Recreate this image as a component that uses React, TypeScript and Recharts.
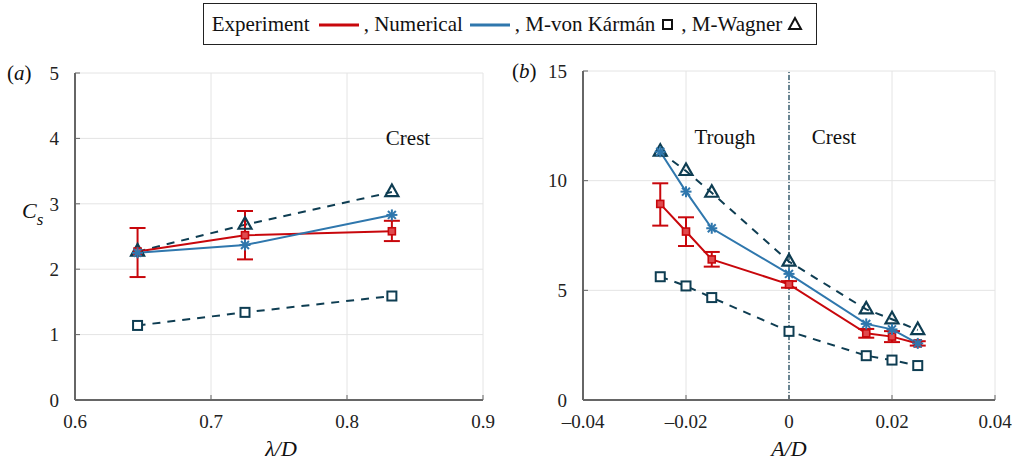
import React from 'react'
import {
  LineChart,
  Line,
  XAxis,
  YAxis,
  CartesianGrid,
  ErrorBar,
  ReferenceLine,
} from 'recharts'

// ── values ───────────────────────────────────────────────────────────────────

// (a) wavelength ratio
const lambdaD = [0.646, 0.725, 0.833]
const expA = [2.27, 2.52, 2.58]
const expALow = [0.39, 0.37, 0.15]
const expAHigh = [0.36, 0.37, 0.16]
const numA = [2.25, 2.37, 2.83]
const vonKarmanA = [1.14, 1.34, 1.59]
const wagnerA = [2.27, 2.68, 3.18]

// (b) amplitude ratio
const ampD = [-0.025, -0.02, -0.015, 0, 0.015, 0.02, 0.025]
const expB = [8.94, 7.68, 6.41, 5.27, 3.04, 2.89, 2.58]
const expBLow = [0.99, 0.66, 0.33, 0.15, 0.2, 0.25, 0.1]
const expBHigh = [0.94, 0.65, 0.34, 0.15, 0.2, 0.25, 0.1]
const numB = [11.32, 9.5, 7.83, 5.75, 3.47, 3.22, 2.58]
const vonKarmanB = [5.62, 5.2, 4.67, 3.13, 2.02, 1.82, 1.57]
const wagnerB = [11.32, 10.44, 9.45, 6.31, 4.13, 3.68, 3.19]

const ticksXA = [0.6, 0.7, 0.8, 0.9]
const ticksYA = [0, 1, 2, 3, 4, 5]
const ticksXB = [-0.04, -0.02, 0, 0.02, 0.04]
const ticksYB = [0, 5, 10, 15]

const legendItems = ['Experiment', ', Numerical', ', M-von Kármán', ', M-Wagner']

const rowsA = lambdaD.map((x, i) => ({
  x,
  exp: expA[i],
  err: [expALow[i], expAHigh[i]],
  num: numA[i],
  vk: vonKarmanA[i],
  wag: wagnerA[i],
}))

const rowsB = ampD.map((x, i) => ({
  x,
  exp: expB[i],
  err: [expBLow[i], expBHigh[i]],
  num: numB[i],
  vk: vonKarmanB[i],
  wag: wagnerB[i],
}))

// ── styling ──────────────────────────────────────────────────────────────────

const RED = '#c8070c'
const BLUE = '#2f77ad'
const TEAL = '#0e3d52'
const GRID = '#e4e4e4'
const AXIS = '#666'
const SERIF = 'Liberation Serif, Tinos, DejaVu Serif, serif'
const tickStyle = { fontSize: 19, fontFamily: SERIF, fill: '#222' }

const fmtX = (v: number) => (v < 0 ? `–${Math.abs(v)}` : `${v}`)

// ── markers ──────────────────────────────────────────────────────────────────

const squareDot = (color: string, size: number, sw: number, fill: string) => (p: any) => {
  if (p.cx == null || p.cy == null) return <g key={p.index} />
  return (
    <rect
      key={p.index}
      x={p.cx - size / 2}
      y={p.cy - size / 2}
      width={size}
      height={size}
      fill={fill}
      stroke={color}
      strokeWidth={sw}
    />
  )
}

const starDot = (p: any) => {
  if (p.cx == null || p.cy == null) return <g key={p.index} />
  const r = 5.5
  const d = r * 0.72
  const { cx, cy } = p
  return (
    <g key={p.index} stroke={BLUE} strokeWidth={2}>
      <line x1={cx - r} y1={cy} x2={cx + r} y2={cy} />
      <line x1={cx} y1={cy - r} x2={cx} y2={cy + r} />
      <line x1={cx - d} y1={cy - d} x2={cx + d} y2={cy + d} />
      <line x1={cx - d} y1={cy + d} x2={cx + d} y2={cy - d} />
    </g>
  )
}

const triangleDot = (p: any) => {
  if (p.cx == null || p.cy == null) return <g key={p.index} />
  const { cx, cy } = p
  const pts = `${cx},${cy - 7.5} ${cx - 6.5},${cy + 4} ${cx + 6.5},${cy + 4}`
  return <polygon key={p.index} points={pts} fill="none" stroke={TEAL} strokeWidth={2.2} strokeLinejoin="miter" />
}

// ── one panel ────────────────────────────────────────────────────────────────

interface PanelProps {
  data: typeof rowsA
  width: number
  marginTop: number
  yWidth: number
  xDomain: [number, number]
  yDomain: [number, number]
  xTicks: number[]
  yTicks: number[]
  zeroLine?: boolean
}

function Panel({ data, width, marginTop, yWidth, xDomain, yDomain, xTicks, yTicks, zeroLine }: PanelProps) {
  return (
    <LineChart width={width} height={466} data={data} margin={{ top: marginTop, right: 17, bottom: 0, left: 0 }}>
      <CartesianGrid stroke={GRID} strokeWidth={1} />
      <XAxis
        dataKey="x"
        type="number"
        domain={xDomain}
        ticks={xTicks}
        allowDataOverflow
        tickFormatter={fmtX}
        tick={tickStyle}
        tickSize={-5}
        tickMargin={20}
        tickLine={{ stroke: AXIS, strokeWidth: 1 }}
        axisLine={{ stroke: AXIS, strokeWidth: 2 }}
        height={66}
        interval={0}
      />
      <XAxis
        xAxisId="top"
        orientation="top"
        type="number"
        domain={xDomain}
        ticks={xTicks}
        tick={false}
        tickLine={false}
        axisLine={{ stroke: '#333', strokeWidth: 1.2 }}
        height={0}
      />
      <YAxis
        type="number"
        domain={yDomain}
        ticks={yTicks}
        allowDataOverflow
        tick={tickStyle}
        tickSize={-5}
        tickMargin={21}
        tickLine={{ stroke: AXIS, strokeWidth: 1 }}
        axisLine={{ stroke: AXIS, strokeWidth: 2 }}
        width={yWidth}
        interval={0}
      />
      <YAxis
        yAxisId="right"
        orientation="right"
        type="number"
        domain={yDomain}
        ticks={yTicks}
        tick={false}
        tickSize={-5}
        tickLine={{ stroke: AXIS, strokeWidth: 1 }}
        axisLine={{ stroke: '#333', strokeWidth: 1.2 }}
        width={0}
      />
      {zeroLine && (
        <ReferenceLine x={0} stroke={TEAL} strokeWidth={1.2} strokeDasharray="5 2 1 2" />
      )}
      <Line
        dataKey="vk"
        stroke={TEAL}
        strokeWidth={2}
        strokeDasharray="8 7"
        dot={squareDot(TEAL, 9, 2, '#fff')}
        isAnimationActive={false}
      />
      <Line
        dataKey="wag"
        stroke={TEAL}
        strokeWidth={2}
        strokeDasharray="8 7"
        dot={triangleDot}
        isAnimationActive={false}
      />
      <Line dataKey="exp" stroke={RED} strokeWidth={2} dot={squareDot(RED, 7, 1.6, '#e04a4e')} isAnimationActive={false}>
        <ErrorBar dataKey="err" direction="y" width={8} stroke={RED} strokeWidth={2} />
      </Line>
      <Line dataKey="num" stroke={BLUE} strokeWidth={2} dot={starDot} isAnimationActive={false} />
    </LineChart>
  )
}

// ── page ─────────────────────────────────────────────────────────────────────

function LegendBox() {
  return (
    <div
      style={{
        position: 'absolute',
        left: 203,
        top: 3,
        width: 612,
        height: 40,
        border: '1.5px solid #222',
        display: 'flex',
        alignItems: 'center',
        justifyContent: 'center',
        fontFamily: SERIF,
        fontSize: 21,
        color: '#111',
        whiteSpace: 'nowrap',
      }}
    >
      <span>{legendItems[0]}</span>
      <svg width={54} height={20}>
        <line x1={9} y1={11} x2={49} y2={11} stroke={RED} strokeWidth={3} />
      </svg>
      <span>{legendItems[1]}</span>
      <svg width={52} height={20}>
        <line x1={7} y1={11} x2={47} y2={11} stroke={BLUE} strokeWidth={3} />
      </svg>
      <span>{legendItems[2]}</span>
      <svg width={26} height={20}>
        <rect x={8} y={6} width={9} height={9} fill="none" stroke="#111" strokeWidth={2} />
      </svg>
      <span>{legendItems[3]}</span>
      <svg width={26} height={20}>
        <polygon points="13,4 7,15 19,15" fill="none" stroke="#111" strokeWidth={2} />
      </svg>
    </div>
  )
}

export default function App() {
  return (
    <div style={{ position: 'absolute', left: 0, top: 0, width: 1012, height: 466, background: '#fff' }}>
      <div style={{ position: 'absolute', left: 0, top: 0 }}>
        <Panel
          data={rowsA}
          width={500}
          marginTop={73}
          yWidth={75}
          xDomain={[0.6, 0.9]}
          yDomain={[0, 5]}
          xTicks={ticksXA}
          yTicks={ticksYA}
        />
      </div>
      <div style={{ position: 'absolute', left: 500, top: 0 }}>
        <Panel
          data={rowsB}
          width={512}
          marginTop={71}
          yWidth={83}
          xDomain={[-0.04, 0.04]}
          yDomain={[0, 15]}
          xTicks={ticksXB}
          yTicks={ticksYB}
          zeroLine
        />
      </div>
      <svg
        width={1012}
        height={466}
        style={{ position: 'absolute', left: 0, top: 0, pointerEvents: 'none' }}
        fontFamily={SERIF}
        fontSize={21}
        fill="#111"
      >
        <text x={7} y={80}>
          (<tspan fontStyle="italic">a</tspan>)
        </text>
        <text x={512} y={78}>
          (<tspan fontStyle="italic">b</tspan>)
        </text>
        <text x={22} y={218} fontStyle="italic" fontSize={22}>
          C
          <tspan fontSize={17} dy={7}>s</tspan>
        </text>
        <text x={281} y={456} fontStyle="italic" textAnchor="middle" fontSize={22}>λ/D</text>
        <text x={789} y={456} fontStyle="italic" textAnchor="middle" fontSize={22}>A/D</text>
        <text x={408} y={145} textAnchor="middle">Crest</text>
        <text x={725} y={144} textAnchor="middle">Trough</text>
        <text x={834} y={144} textAnchor="middle">Crest</text>
      </svg>
      <LegendBox />
    </div>
  )
}
